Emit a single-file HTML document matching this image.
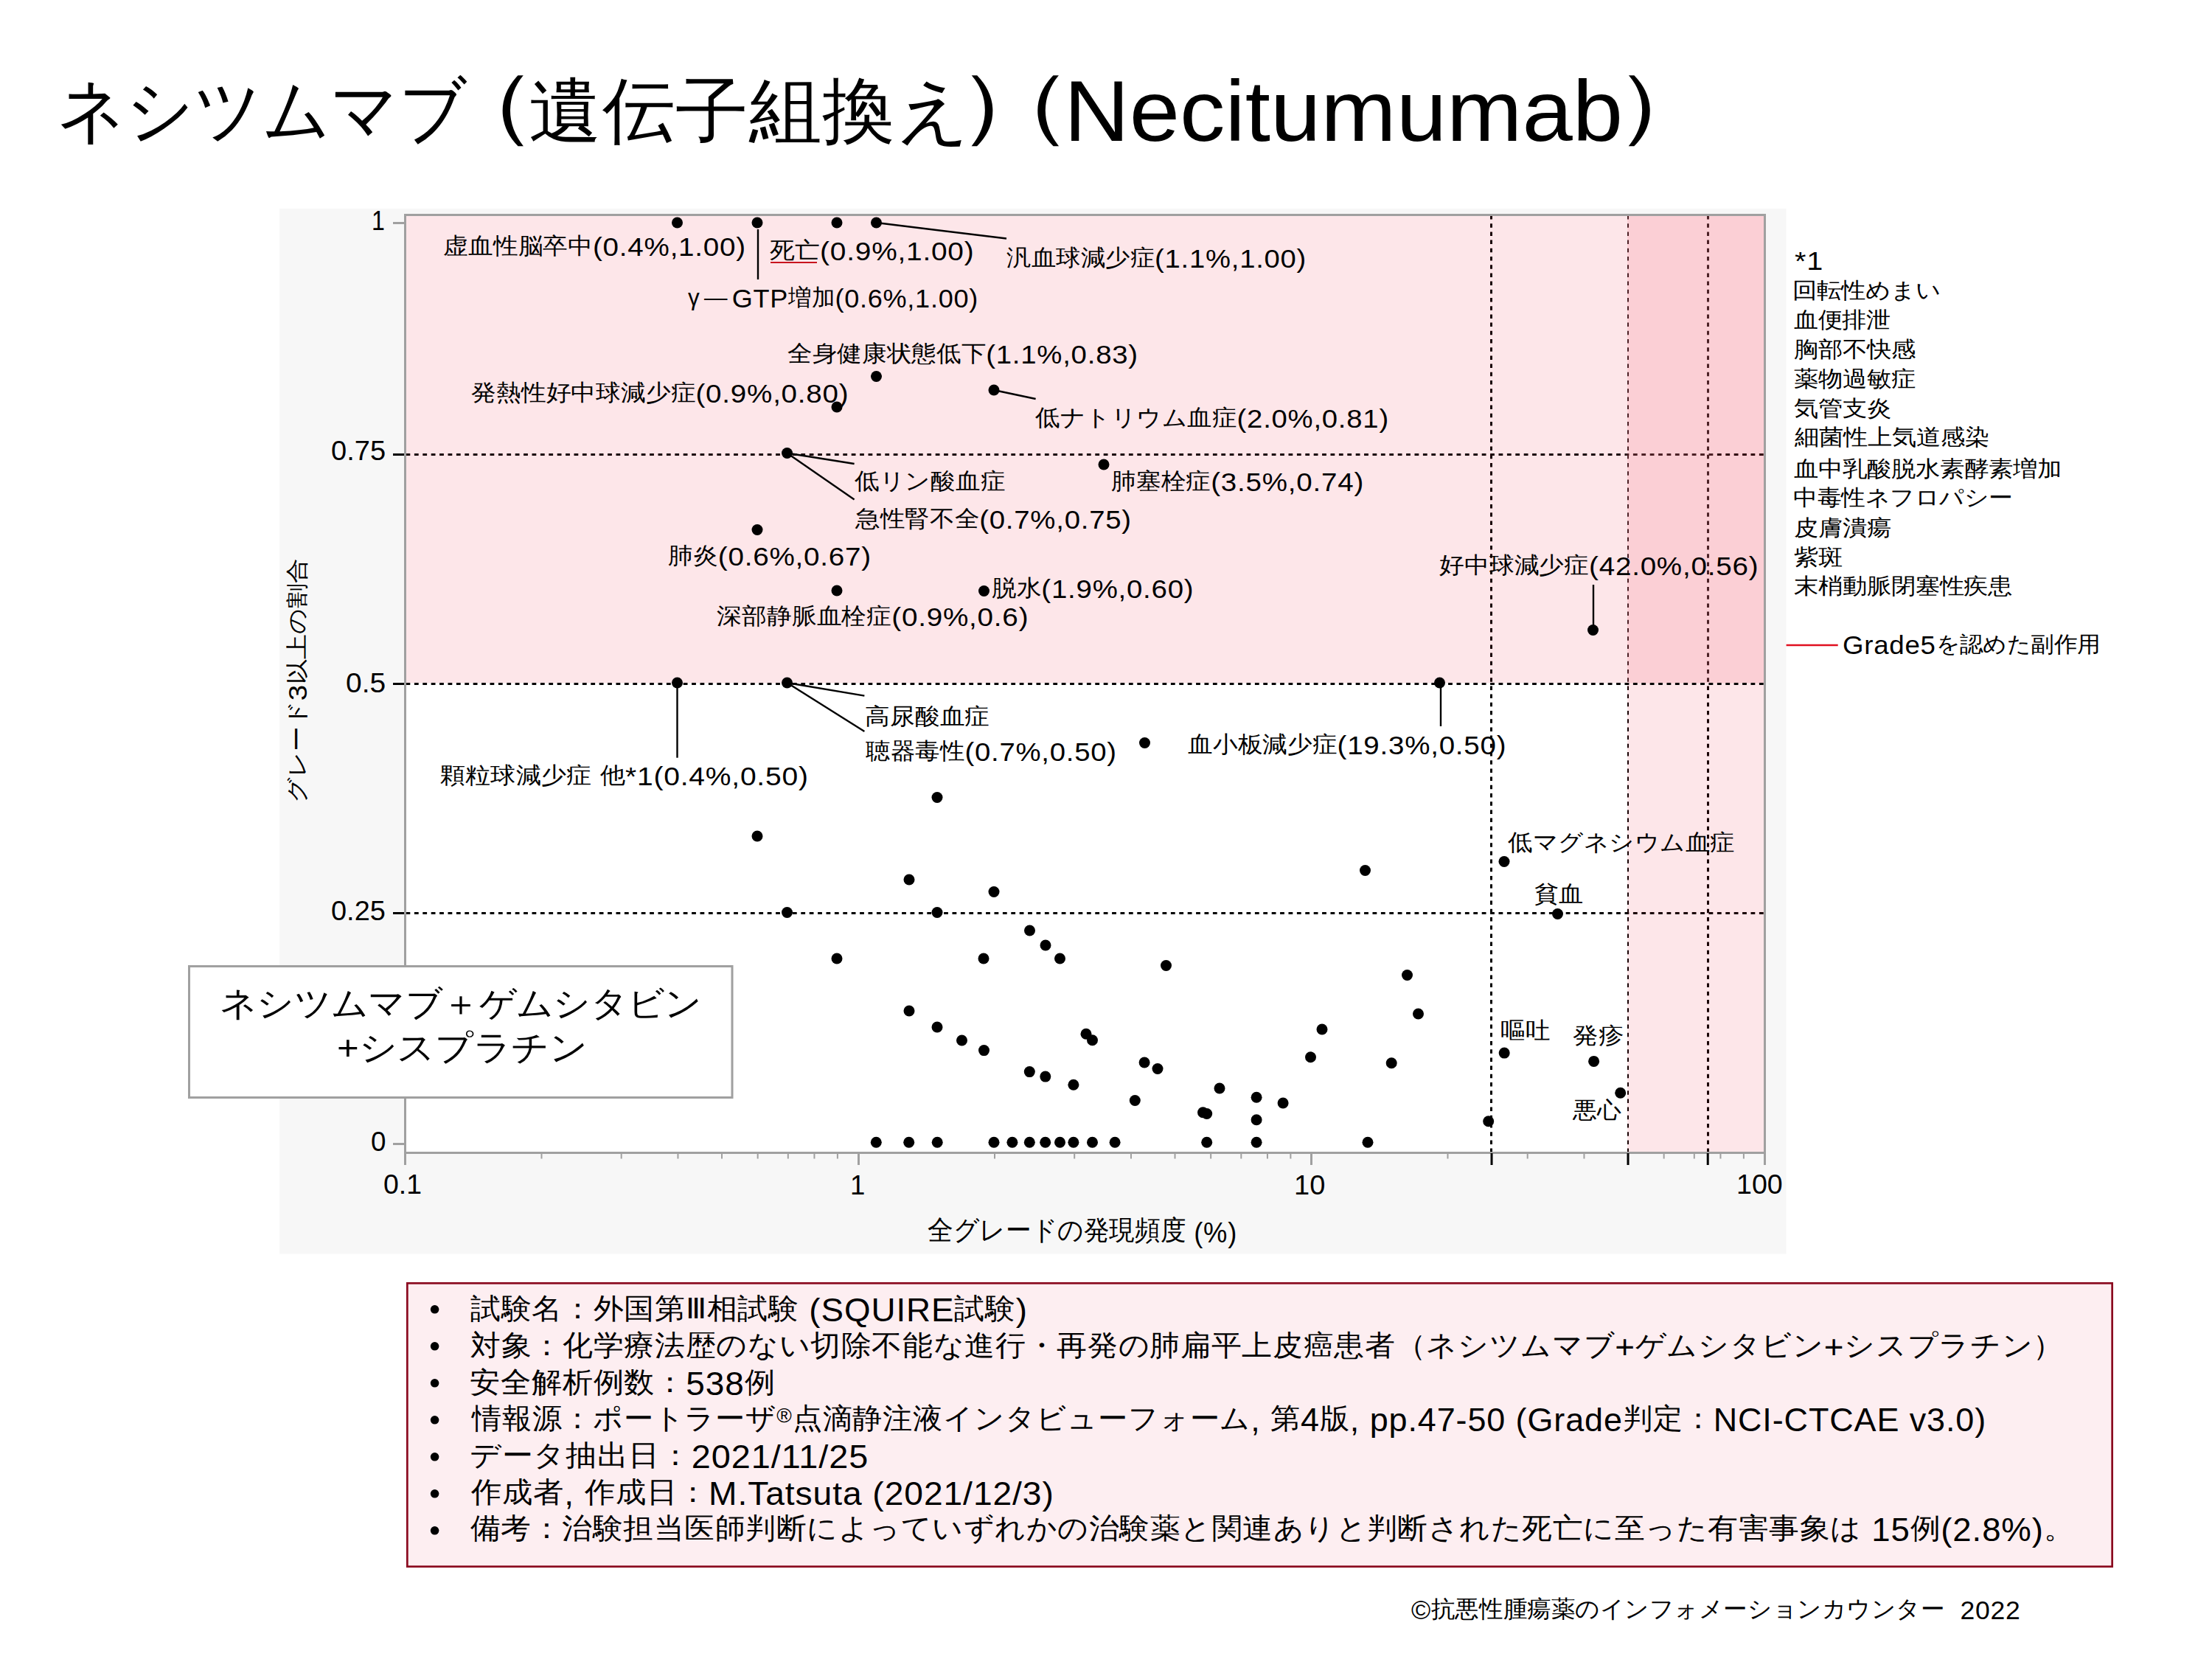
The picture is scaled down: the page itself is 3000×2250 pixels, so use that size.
<!DOCTYPE html>
<html><head><meta charset="utf-8"><style>
html,body{margin:0;padding:0;background:#fff;}
body{width:3000px;height:2250px;position:relative;overflow:hidden;font-family:"Liberation Sans", sans-serif;}
.t{position:absolute;white-space:pre;line-height:1.5;transform-origin:0 0;color:#000;}
.L{letter-spacing:0.02em} .C{position:relative;top:-0.105em} .R{font-size:0.62em;position:relative;top:-0.45em}
svg{position:absolute;left:0;top:0;}
</style></head><body>
<svg width="3000" height="2250" viewBox="0 0 3000 2250">
<rect x="379" y="283" width="2043.5" height="1417.5" fill="#f7f7f7"/>
<rect x="548" y="290" width="1846" height="1274" fill="#ffffff"/>
<line x1="2208" y1="292" x2="2208" y2="1562" stroke="#000" stroke-width="2" stroke-dasharray="5.5 5.7"/>
<line x1="2316.5" y1="292" x2="2316.5" y2="1562" stroke="#000" stroke-width="3" stroke-dasharray="5.5 5.7"/>
<line x1="2022.5" y1="292" x2="2022.5" y2="1562" stroke="#000" stroke-width="3" stroke-dasharray="5.5 5.7"/>
<line x1="550.5" y1="616.5" x2="2392" y2="616.5" stroke="#000" stroke-width="3" stroke-dasharray="5.8 5.6"/>
<line x1="550.5" y1="1238.5" x2="2392" y2="1238.5" stroke="#000" stroke-width="3" stroke-dasharray="5.8 5.6"/>
<rect x="2205" y="292" width="120" height="634" fill="rgba(255,255,255,0.15)"/>
<rect x="550.5" y="292" width="1841.5" height="634.5" fill="rgba(240,20,50,0.105)"/>
<rect x="2207" y="292" width="185" height="1270" fill="rgba(240,20,50,0.105)"/>
<line x1="550.5" y1="927.5" x2="2392" y2="927.5" stroke="#000" stroke-width="3" stroke-dasharray="5.8 5.6"/>
<line x1="533" y1="616.5" x2="550" y2="616.5" stroke="#000" stroke-width="3"/>
<line x1="533" y1="927.5" x2="550" y2="927.5" stroke="#000" stroke-width="3"/>
<line x1="533" y1="1238.5" x2="550" y2="1238.5" stroke="#000" stroke-width="3"/>
<rect x="549.5" y="291.5" width="1844" height="1272" fill="none" stroke="#a0a0a0" stroke-width="3"/>
<line x1="533" y1="302.5" x2="549" y2="302.5" stroke="#a0a0a0" stroke-width="3"/>
<line x1="533" y1="1551.5" x2="549" y2="1551.5" stroke="#a0a0a0" stroke-width="3"/>
<line x1="549.5" y1="1563" x2="549.5" y2="1580" stroke="#a0a0a0" stroke-width="3"/>
<line x1="1164.5" y1="1563" x2="1164.5" y2="1580" stroke="#a0a0a0" stroke-width="3"/>
<line x1="1778.5" y1="1563" x2="1778.5" y2="1580" stroke="#a0a0a0" stroke-width="3"/>
<line x1="2393.5" y1="1563" x2="2393.5" y2="1580" stroke="#a0a0a0" stroke-width="3"/>
<line x1="734.4829323355165" y1="1563" x2="734.4829323355165" y2="1571.5" stroke="#a0a0a0" stroke-width="2"/>
<line x1="842.6910110252327" y1="1563" x2="842.6910110252327" y2="1571.5" stroke="#a0a0a0" stroke-width="2"/>
<line x1="919.4658646710329" y1="1563" x2="919.4658646710329" y2="1571.5" stroke="#a0a0a0" stroke-width="2"/>
<line x1="979.0170676644835" y1="1563" x2="979.0170676644835" y2="1571.5" stroke="#a0a0a0" stroke-width="2"/>
<line x1="1027.673943360749" y1="1563" x2="1027.673943360749" y2="1571.5" stroke="#a0a0a0" stroke-width="2"/>
<line x1="1068.812745588761" y1="1563" x2="1068.812745588761" y2="1571.5" stroke="#a0a0a0" stroke-width="2"/>
<line x1="1104.4487970065493" y1="1563" x2="1104.4487970065493" y2="1571.5" stroke="#a0a0a0" stroke-width="2"/>
<line x1="1135.8820220504651" y1="1563" x2="1135.8820220504651" y2="1571.5" stroke="#a0a0a0" stroke-width="2"/>
<line x1="1348.9829323355166" y1="1563" x2="1348.9829323355166" y2="1571.5" stroke="#a0a0a0" stroke-width="2"/>
<line x1="1457.1910110252325" y1="1563" x2="1457.1910110252325" y2="1571.5" stroke="#a0a0a0" stroke-width="2"/>
<line x1="1533.965864671033" y1="1563" x2="1533.965864671033" y2="1571.5" stroke="#a0a0a0" stroke-width="2"/>
<line x1="1593.5170676644834" y1="1563" x2="1593.5170676644834" y2="1571.5" stroke="#a0a0a0" stroke-width="2"/>
<line x1="1642.173943360749" y1="1563" x2="1642.173943360749" y2="1571.5" stroke="#a0a0a0" stroke-width="2"/>
<line x1="1683.312745588761" y1="1563" x2="1683.312745588761" y2="1571.5" stroke="#a0a0a0" stroke-width="2"/>
<line x1="1718.9487970065493" y1="1563" x2="1718.9487970065493" y2="1571.5" stroke="#a0a0a0" stroke-width="2"/>
<line x1="1750.3820220504651" y1="1563" x2="1750.3820220504651" y2="1571.5" stroke="#a0a0a0" stroke-width="2"/>
<line x1="1963.4829323355166" y1="1563" x2="1963.4829323355166" y2="1571.5" stroke="#a0a0a0" stroke-width="2"/>
<line x1="2071.691011025233" y1="1563" x2="2071.691011025233" y2="1571.5" stroke="#a0a0a0" stroke-width="2"/>
<line x1="2148.465864671033" y1="1563" x2="2148.465864671033" y2="1571.5" stroke="#a0a0a0" stroke-width="2"/>
<line x1="2208.0170676644834" y1="1563" x2="2208.0170676644834" y2="1571.5" stroke="#a0a0a0" stroke-width="2"/>
<line x1="2256.673943360749" y1="1563" x2="2256.673943360749" y2="1571.5" stroke="#a0a0a0" stroke-width="2"/>
<line x1="2297.8127455887607" y1="1563" x2="2297.8127455887607" y2="1571.5" stroke="#a0a0a0" stroke-width="2"/>
<line x1="2333.4487970065493" y1="1563" x2="2333.4487970065493" y2="1571.5" stroke="#a0a0a0" stroke-width="2"/>
<line x1="2364.882022050465" y1="1563" x2="2364.882022050465" y2="1571.5" stroke="#a0a0a0" stroke-width="2"/>
<line x1="2023.034135328967" y1="1564" x2="2023.034135328967" y2="1580" stroke="#000" stroke-width="3"/>
<line x1="2208.0170676644834" y1="1564" x2="2208.0170676644834" y2="1580" stroke="#000" stroke-width="3"/>
<line x1="2316.2251463541998" y1="1564" x2="2316.2251463541998" y2="1580" stroke="#000" stroke-width="3"/>
<line x1="1188.5" y1="302" x2="1365" y2="323.5" stroke="#000" stroke-width="2.4"/>
<line x1="1028" y1="311" x2="1028" y2="379" stroke="#000" stroke-width="2.4"/>
<line x1="1348" y1="529" x2="1404.6" y2="541" stroke="#000" stroke-width="2.4"/>
<line x1="1067.5" y1="614.5" x2="1158.6" y2="629" stroke="#000" stroke-width="2.4"/>
<line x1="1067.5" y1="614.5" x2="1158.6" y2="677.5" stroke="#000" stroke-width="2.4"/>
<line x1="2161" y1="854" x2="2161" y2="793" stroke="#000" stroke-width="2.4"/>
<line x1="918.5" y1="926" x2="918.5" y2="1027.7" stroke="#000" stroke-width="2.4"/>
<line x1="1067.5" y1="926" x2="1172.4" y2="943.6" stroke="#000" stroke-width="2.4"/>
<line x1="1067.5" y1="926" x2="1172.4" y2="992" stroke="#000" stroke-width="2.4"/>
<line x1="1954" y1="926" x2="1954" y2="985" stroke="#000" stroke-width="2.4"/>
<circle cx="918.5" cy="302" r="7.5" fill="#000"/>
<circle cx="1027" cy="302" r="7.5" fill="#000"/>
<circle cx="1135" cy="302" r="7.5" fill="#000"/>
<circle cx="1188.5" cy="302" r="7.5" fill="#000"/>
<circle cx="1188.5" cy="510.5" r="7.5" fill="#000"/>
<circle cx="1135" cy="552" r="7.5" fill="#000"/>
<circle cx="1348" cy="529" r="7.5" fill="#000"/>
<circle cx="1067.5" cy="614.5" r="7.5" fill="#000"/>
<circle cx="1497" cy="630" r="7.5" fill="#000"/>
<circle cx="1027" cy="718.5" r="7.5" fill="#000"/>
<circle cx="1135" cy="801" r="7.5" fill="#000"/>
<circle cx="1334.5" cy="801.5" r="7.5" fill="#000"/>
<circle cx="2160.5" cy="854.5" r="7.5" fill="#000"/>
<circle cx="918.5" cy="926" r="7.5" fill="#000"/>
<circle cx="1067.5" cy="926" r="7.5" fill="#000"/>
<circle cx="1952.5" cy="926" r="7.5" fill="#000"/>
<circle cx="1552.5" cy="1007.5" r="7.5" fill="#000"/>
<circle cx="1271" cy="1081.5" r="7.5" fill="#000"/>
<circle cx="1027" cy="1134" r="7.5" fill="#000"/>
<circle cx="1851.5" cy="1180.5" r="7.5" fill="#000"/>
<circle cx="2040" cy="1168.5" r="7.5" fill="#000"/>
<circle cx="1233" cy="1193" r="7.5" fill="#000"/>
<circle cx="1348" cy="1209.5" r="7.5" fill="#000"/>
<circle cx="1067.5" cy="1237.5" r="7.5" fill="#000"/>
<circle cx="1271" cy="1237.5" r="7.5" fill="#000"/>
<circle cx="2112.5" cy="1239.5" r="7.5" fill="#000"/>
<circle cx="1396.5" cy="1262" r="7.5" fill="#000"/>
<circle cx="1418" cy="1282" r="7.5" fill="#000"/>
<circle cx="1437.5" cy="1300" r="7.5" fill="#000"/>
<circle cx="1135" cy="1300" r="7.5" fill="#000"/>
<circle cx="1334" cy="1300" r="7.5" fill="#000"/>
<circle cx="1581.5" cy="1309.5" r="7.5" fill="#000"/>
<circle cx="1908.5" cy="1322.5" r="7.5" fill="#000"/>
<circle cx="1923.5" cy="1375" r="7.5" fill="#000"/>
<circle cx="1233" cy="1371" r="7.5" fill="#000"/>
<circle cx="1271" cy="1393" r="7.5" fill="#000"/>
<circle cx="1793" cy="1396" r="7.5" fill="#000"/>
<circle cx="1304.5" cy="1411" r="7.5" fill="#000"/>
<circle cx="1473" cy="1402.2" r="7.5" fill="#000"/>
<circle cx="1481.5" cy="1410.8" r="7.5" fill="#000"/>
<circle cx="1334.5" cy="1424.6" r="7.5" fill="#000"/>
<circle cx="1777.5" cy="1433.7" r="7.5" fill="#000"/>
<circle cx="2040.2" cy="1428.1" r="7.5" fill="#000"/>
<circle cx="1396.3" cy="1453.6" r="7.5" fill="#000"/>
<circle cx="1417.8" cy="1460.1" r="7.5" fill="#000"/>
<circle cx="1455.9" cy="1471.3" r="7.5" fill="#000"/>
<circle cx="1887.2" cy="1441.7" r="7.5" fill="#000"/>
<circle cx="1552.1" cy="1441" r="7.5" fill="#000"/>
<circle cx="1570" cy="1449.5" r="7.5" fill="#000"/>
<circle cx="2161.6" cy="1439.4" r="7.5" fill="#000"/>
<circle cx="1539.3" cy="1492.5" r="7.5" fill="#000"/>
<circle cx="1654" cy="1476" r="7.5" fill="#000"/>
<circle cx="1631.5" cy="1508.8" r="7.5" fill="#000"/>
<circle cx="1636.7" cy="1510.5" r="7.5" fill="#000"/>
<circle cx="1704.1" cy="1488.2" r="7.5" fill="#000"/>
<circle cx="1704.1" cy="1518.8" r="7.5" fill="#000"/>
<circle cx="1740.1" cy="1496" r="7.5" fill="#000"/>
<circle cx="2197.7" cy="1482.2" r="7.5" fill="#000"/>
<circle cx="2018.7" cy="1520.8" r="7.5" fill="#000"/>
<circle cx="1188.3" cy="1549.3" r="7.5" fill="#000"/>
<circle cx="1232.7" cy="1549.3" r="7.5" fill="#000"/>
<circle cx="1271.2" cy="1549.3" r="7.5" fill="#000"/>
<circle cx="1348" cy="1549.3" r="7.5" fill="#000"/>
<circle cx="1372.9" cy="1549.3" r="7.5" fill="#000"/>
<circle cx="1396.3" cy="1549.3" r="7.5" fill="#000"/>
<circle cx="1417.7" cy="1549.3" r="7.5" fill="#000"/>
<circle cx="1437.5" cy="1549.3" r="7.5" fill="#000"/>
<circle cx="1455.9" cy="1549.3" r="7.5" fill="#000"/>
<circle cx="1481.5" cy="1549.3" r="7.5" fill="#000"/>
<circle cx="1512.1" cy="1549.3" r="7.5" fill="#000"/>
<circle cx="1636.7" cy="1549.3" r="7.5" fill="#000"/>
<circle cx="1704.1" cy="1549.3" r="7.5" fill="#000"/>
<circle cx="1855" cy="1549.3" r="7.5" fill="#000"/>
<line x1="1045" y1="356" x2="1108" y2="356" stroke="#c8141e" stroke-width="2.2"/>
<rect x="256.5" y="1310.5" width="736.5" height="178" fill="#fff" stroke="#a0a0a0" stroke-width="3"/>
<line x1="2422.6" y1="875" x2="2492.7" y2="875" stroke="#e01020" stroke-width="2.5"/>
<rect x="552.35" y="1740.35" width="2312.3" height="384.3" fill="#fdeef1" stroke="#8b0b20" stroke-width="2.7"/>
<circle cx="589.6" cy="1775.8" r="5.8" fill="#000"/>
<circle cx="589.6" cy="1825.8" r="5.8" fill="#000"/>
<circle cx="589.6" cy="1875.8" r="5.8" fill="#000"/>
<circle cx="589.6" cy="1925.8" r="5.8" fill="#000"/>
<circle cx="589.6" cy="1975.8" r="5.8" fill="#000"/>
<circle cx="589.6" cy="2025.8" r="5.8" fill="#000"/>
<circle cx="589.6" cy="2075.8" r="5.8" fill="#000"/>
</svg>
<div class="t" style="left:601.00px;top:308.85px;font-size:33.8px;transform:scale(0.9951,0.9150)"><span class="C">虚血性脳卒中</span><span class="L" style="font-size:1.1475em">(0.4%,1.00)</span></div>
<div class="t" style="left:1044.00px;top:315.26px;font-size:33.8px;transform:scale(1.0018,0.9150)"><span class="C">死亡</span><span class="L" style="font-size:1.1475em">(0.9%,1.00)</span></div>
<div class="t" style="left:1364.51px;top:324.85px;font-size:33.8px;transform:scale(0.9858,0.9150)"><span class="C">汎血球減少症</span><span class="L" style="font-size:1.1475em">(1.1%,1.00)</span></div>
<div class="t" style="left:933.00px;top:378.76px;font-size:33.8px;transform:scale(0.9310,0.9150)"><span class="C">γ ― </span><span class="L" style="font-size:1.1475em">GTP</span><span class="C">増加</span><span class="L" style="font-size:1.1475em">(0.6%,1.00)</span></div>
<div class="t" style="left:1068.01px;top:455.25px;font-size:33.8px;transform:scale(0.9895,0.9150)"><span class="C">全身健康状態低下</span><span class="L" style="font-size:1.1475em">(1.1%,0.83)</span></div>
<div class="t" style="left:639.00px;top:507.85px;font-size:33.8px;transform:scale(0.9951,0.9150)"><span class="C">発熱性好中球減少症</span><span class="L" style="font-size:1.1475em">(0.9%,0.80)</span></div>
<div class="t" style="left:1404.01px;top:541.85px;font-size:33.8px;transform:scale(0.9876,0.9150)"><span class="C">低ナトリウム血症</span><span class="L" style="font-size:1.1475em">(2.0%,0.81)</span></div>
<div class="t" style="left:1158.51px;top:633.42px;font-size:33.8px;transform:scale(0.9926,0.9150)"><span class="C">低リン酸血症</span></div>
<div class="t" style="left:1507.41px;top:627.76px;font-size:33.8px;transform:scale(0.9944,0.9150)"><span class="C">肺塞栓症</span><span class="L" style="font-size:1.1475em">(3.5%,0.74)</span></div>
<div class="t" style="left:1160.00px;top:679.35px;font-size:33.8px;transform:scale(0.9894,0.9150)"><span class="C">急性腎不全</span><span class="L" style="font-size:1.1475em">(0.7%,0.75)</span></div>
<div class="t" style="left:906.00px;top:728.85px;font-size:33.8px;transform:scale(0.9963,0.9150)"><span class="C">肺炎</span><span class="L" style="font-size:1.1475em">(0.6%,0.67)</span></div>
<div class="t" style="left:1345.01px;top:772.55px;font-size:33.8px;transform:scale(0.9908,0.9150)"><span class="C">脱水</span><span class="L" style="font-size:1.1475em">(1.9%,0.60)</span></div>
<div class="t" style="left:971.50px;top:810.85px;font-size:33.8px;transform:scale(0.9969,0.9150)"><span class="C">深部静脈血栓症</span><span class="L" style="font-size:1.1475em">(0.9%,0.6)</span></div>
<div class="t" style="left:1951.60px;top:741.85px;font-size:33.8px;transform:scale(0.9954,0.9150)"><span class="C">好中球減少症</span><span class="L" style="font-size:1.1475em">(42.0%,0.56)</span></div>
<div class="t" style="left:1172.71px;top:952.34px;font-size:33.8px;transform:scale(0.9958,0.9150)"><span class="C">高尿酸血症</span></div>
<div class="t" style="left:1174.00px;top:993.85px;font-size:33.8px;transform:scale(0.9883,0.9150)"><span class="C">聴器毒性</span><span class="L" style="font-size:1.1475em">(0.7%,0.50)</span></div>
<div class="t" style="left:596.99px;top:1026.85px;font-size:33.8px;transform:scale(1.0061,0.9150)"><span class="C">顆粒球減少症</span><span class="L" style="font-size:1.1475em"> </span><span class="C">他</span><span class="L" style="font-size:1.1475em">*1(0.4%,0.50)</span></div>
<div class="t" style="left:1611.01px;top:984.85px;font-size:33.8px;transform:scale(0.9930,0.9150)"><span class="C">血小板減少症</span><span class="L" style="font-size:1.1475em">(19.3%,0.50)</span></div>
<div class="t" style="left:2045.01px;top:1123.42px;font-size:33.8px;transform:scale(0.9871,0.9150)"><span class="C">低マグネシウム血症</span></div>
<div class="t" style="left:2081.32px;top:1192.62px;font-size:33.8px;transform:scale(0.9818,0.9150)"><span class="C">貧血</span></div>
<div class="t" style="left:2034.81px;top:1378.42px;font-size:33.8px;transform:scale(0.9879,0.9150)"><span class="C">嘔吐</span></div>
<div class="t" style="left:2132.98px;top:1385.42px;font-size:33.8px;transform:scale(1.0154,0.9150)"><span class="C">発疹</span></div>
<div class="t" style="left:2133.40px;top:1485.83px;font-size:33.8px;transform:scale(0.9716,0.9150)"><span class="C">悪心</span></div>
<div class="t" style="left:504.09px;top:272.00px;font-size:37.0px;transform:scale(0.8688,1.0000)">1</div>
<div class="t" style="left:448.97px;top:584.00px;font-size:37.0px;transform:scale(1.0286,1.0000)">0.75</div>
<div class="t" style="left:469.35px;top:899.00px;font-size:37.0px;transform:scale(1.0531,1.0000)">0.5</div>
<div class="t" style="left:449.17px;top:1208.00px;font-size:37.0px;transform:scale(1.0257,1.0000)">0.25</div>
<div class="t" style="left:503.41px;top:1521.00px;font-size:37.0px;transform:scale(0.9944,1.0000)">0</div>
<div class="t" style="left:520.39px;top:1579.00px;font-size:37.0px;transform:scale(1.0122,1.0000)">0.1</div>
<div class="t" style="left:1152.74px;top:1580.00px;font-size:37.0px;transform:scale(0.9875,1.0000)">1</div>
<div class="t" style="left:1754.52px;top:1580.00px;font-size:37.0px;transform:scale(1.0270,1.0000)">10</div>
<div class="t" style="left:2355.25px;top:1579.00px;font-size:37.0px;transform:scale(1.0158,1.0000)">100</div>
<div class="t" style="left:1258.06px;top:1643.00px;font-size:37.0px;transform:scale(0.9369,1.0000)"><span class="C">全グレードの発現頻度</span><span class="L" style="font-size:1.0500em"> (%)</span></div>
<div class="t" style="left:2433.97px;top:328.00px;font-size:33.0px;transform:scale(1.0294,0.9000)"><span class="L" style="font-size:1.1667em">*1</span></div>
<div class="t" style="left:2430.89px;top:373.80px;font-size:33.0px;transform:scale(1.0026,0.9000)"><span class="C">回転性めまい</span></div>
<div class="t" style="left:2432.91px;top:414.10px;font-size:33.0px;transform:scale(0.9908,0.9000)"><span class="C">血便排泄</span></div>
<div class="t" style="left:2432.50px;top:453.60px;font-size:33.0px;transform:scale(1.0012,0.9000)"><span class="C">胸部不快感</span></div>
<div class="t" style="left:2432.50px;top:494.30px;font-size:33.0px;transform:scale(1.0000,0.9000)"><span class="C">薬物過敏症</span></div>
<div class="t" style="left:2432.50px;top:533.90px;font-size:33.0px;transform:scale(1.0000,0.9000)"><span class="C">気管支炎</span></div>
<div class="t" style="left:2433.90px;top:573.40px;font-size:33.0px;transform:scale(0.9992,0.9000)"><span class="C">細菌性上気道感染</span></div>
<div class="t" style="left:2432.90px;top:616.00px;font-size:33.0px;transform:scale(1.0011,0.9000)"><span class="C">血中乳酸脱水素酵素増加</span></div>
<div class="t" style="left:2431.93px;top:654.60px;font-size:33.0px;transform:scale(0.9855,0.9000)"><span class="C">中毒性ネフロパシー</span></div>
<div class="t" style="left:2432.50px;top:696.30px;font-size:33.0px;transform:scale(1.0000,0.9000)"><span class="C">皮膚潰瘍</span></div>
<div class="t" style="left:2432.50px;top:735.80px;font-size:33.0px;transform:scale(1.0000,0.9000)"><span class="C">紫斑</span></div>
<div class="t" style="left:2432.50px;top:775.40px;font-size:33.0px;transform:scale(0.9976,0.9000)"><span class="C">末梢動脈閉塞性疾患</span></div>
<div class="t" style="left:2498.70px;top:849.20px;font-size:33.0px;transform:scale(0.9518,0.9000)"><span class="L" style="font-size:1.1667em">Grade5</span><span class="C">を認めた副作用</span></div>
<div class="t" style="left:297.88px;top:1326.35px;font-size:49.3px;transform:scale(1.0073,0.9500)">ネシツムマブ＋ゲムシタビン</div>
<div class="t" style="left:457.24px;top:1385.55px;font-size:49.3px;transform:scale(1.0323,0.9500)">+シスプラチン</div>
<div class="t" style="left:637.61px;top:1745.01px;font-size:41.5px;transform:scale(0.9926,0.9450)"><span class="C">試験名：外国第Ⅲ相試験</span><span class="L" style="font-size:1.1111em"> (SQUIRE</span><span class="C">試験</span><span class="L" style="font-size:1.1111em">)</span></div>
<div class="t" style="left:637.61px;top:1794.61px;font-size:41.5px;transform:scale(0.9918,0.9450)"><span class="C">対象：化学療法歴のない切除不能な進行・再発の肺扁平上皮癌患者（ネシツムマブ</span><span class="L" style="font-size:1.1111em">+</span><span class="C">ゲムシタビン</span><span class="L" style="font-size:1.1111em">+</span><span class="C">シスプラチン）</span></div>
<div class="t" style="left:636.60px;top:1844.61px;font-size:41.5px;transform:scale(0.9976,0.9450)"><span class="C">安全解析例数：</span><span class="L" style="font-size:1.1111em">538</span><span class="C">例</span></div>
<div class="t" style="left:639.57px;top:1894.20px;font-size:41.5px;transform:scale(0.9745,0.9450)"><span class="C">情報源：ポートラーザ</span><span class="L" style="font-size:1.1111em"><span class="R">®</span></span><span class="C">点滴静注液インタビューフォーム</span><span class="L" style="font-size:1.1111em">, </span><span class="C">第</span><span class="L" style="font-size:1.1111em">4</span><span class="C">版</span><span class="L" style="font-size:1.1111em">, pp.47-50 (Grade</span><span class="C">判定：</span><span class="L" style="font-size:1.1111em">NCI-CTCAE v3.0)</span></div>
<div class="t" style="left:636.57px;top:1943.90px;font-size:41.5px;transform:scale(1.0163,0.9450)"><span class="C">データ抽出日：</span><span class="L" style="font-size:1.1111em">2021/11/25</span></div>
<div class="t" style="left:638.60px;top:1993.61px;font-size:41.5px;transform:scale(1.0018,0.9450)"><span class="C">作成者</span><span class="L" style="font-size:1.1111em">, </span><span class="C">作成日：</span><span class="L" style="font-size:1.1111em">M.Tatsuta (2021/12/3)</span></div>
<div class="t" style="left:637.61px;top:2043.41px;font-size:41.5px;transform:scale(0.9878,0.9450)"><span class="C">備考：治験担当医師判断によっていずれかの治験薬と関連ありと判断された死亡に至った有害事象は</span><span class="L" style="font-size:1.1111em"> 15</span><span class="C">例</span><span class="L" style="font-size:1.1111em">(2.8%)</span><span class="C">。</span></div>
<div class="t" style="left:1913.61px;top:2158.24px;font-size:33.3px;transform:scale(0.9865,0.9700)"><span class="L" style="font-size:1.0825em">©</span><span class="C">抗悪性腫瘍薬のインフォメーションカウンター</span><span class="L" style="font-size:1.0825em">  2022</span></div>
<div class="t" style="left:378.55px;top:1088.99px;font-size:33.8px;transform:rotate(-90deg) scale(0.9985,0.8848)"><span class="C">グレード</span><span class="L" style="font-size:1.1475em">3</span><span class="C">以上の割合</span></div>
<div class="t" style="left:77.56px;top:76.68px;font-size:99.7px;transform:scale(0.9073,0.9740)">ネシツムマブ</div>
<div class="t" style="left:589.92px;top:57.14px;font-size:99.7px;transform:scale(1.4150,1.1235)">（</div>
<div class="t" style="left:717.41px;top:75.55px;font-size:99.7px;transform:scale(0.9956,0.9875)">遺伝子組換え</div>
<div class="t" style="left:1296.20px;top:57.14px;font-size:99.7px;transform:scale(1.4400,1.1235)">）</div>
<div class="t" style="left:1314.10px;top:57.14px;font-size:99.7px;transform:scale(1.4400,1.1235)">（</div>
<div class="t" style="left:1443.04px;top:63.77px;font-size:99.7px;transform:scale(1.2328,1.1676)">Necitumumab</div>
<div class="t" style="left:2187.15px;top:56.98px;font-size:99.7px;transform:scale(1.4500,1.1224)">）</div>
</body></html>
